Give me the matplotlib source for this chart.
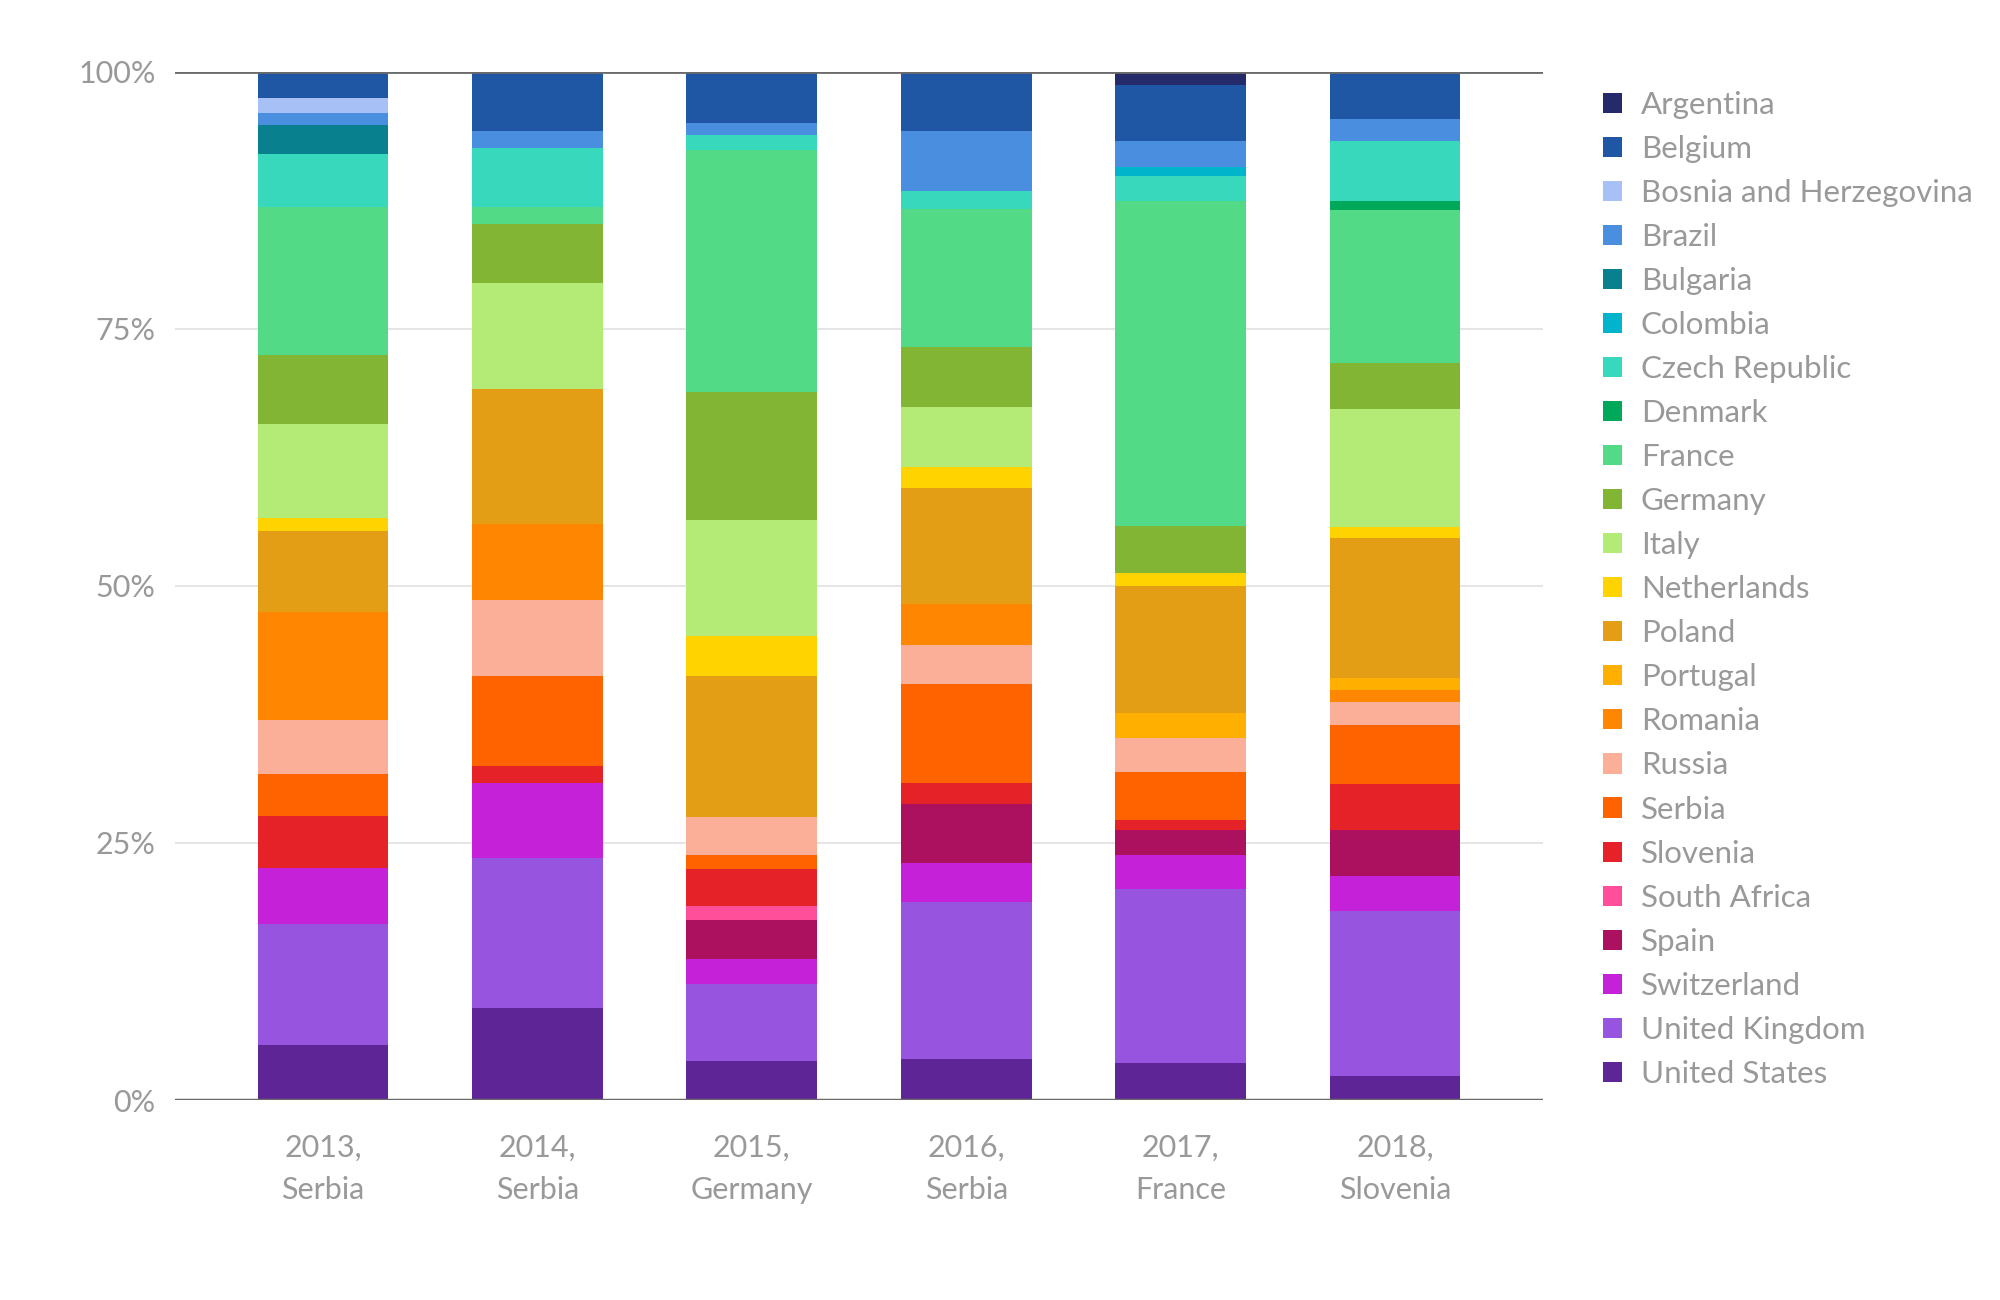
import matplotlib
matplotlib.use("Agg")
from matplotlib import pyplot as plt
import numpy as np

plt.rcParams['font.family'] = ['Lato', 'DejaVu Sans']

# categorias del eje x (año, ganador)
categorias = ["2013,\nSerbia", "2014,\nSerbia", "2015,\nGermany",
              "2016,\nSerbia", "2017,\nFrance", "2018,\nSlovenia"]

paises = ["Argentina", "Belgium", "Bosnia and Herzegovina", "Brazil", "Bulgaria",
          "Colombia", "Czech Republic", "Denmark", "France", "Germany", "Italy",
          "Netherlands", "Poland", "Portugal", "Romania", "Russia", "Serbia",
          "Slovenia", "South Africa", "Spain", "Switzerland", "United Kingdom",
          "United States"]

# porcentaje por pais, un valor por categoria
argentina = [0, 0, 0, 0, 1.27, 0]
belgium = [2.57, 5.79, 5.02, 5.79, 5.48, 4.58]
bosnia = [1.51, 0, 0, 0, 0, 0]
brazil = [1.17, 1.67, 1.20, 5.78, 2.55, 2.17]
bulgaria = [2.74, 0, 0, 0, 0, 0]
colombia = [0, 0, 0, 0, 0.90, 0]
czech = [5.22, 5.75, 1.44, 1.84, 2.41, 5.82]
denmark = [0, 0, 0, 0, 0, 0.94]
france = [14.38, 1.60, 23.51, 13.41, 31.56, 14.81]
germany = [6.65, 5.72, 12.40, 5.82, 4.62, 4.52]
italy = [9.13, 10.30, 11.36, 5.82, 0, 11.40]
netherlands = [1.27, 0, 3.89, 2.00, 1.21, 1.14]
poland = [7.94, 13.14, 13.63, 11.35, 12.33, 13.60]
portugal = [0, 0, 0, 0, 2.45, 1.11]
romania = [10.49, 7.41, 0, 3.99, 0, 1.21]
russia = [5.26, 7.40, 3.69, 3.79, 3.35, 2.24]
serbia = [4.02, 8.75, 1.44, 9.55, 4.63, 5.76]
slovenia = [5.10, 1.64, 3.52, 2.04, 1.03, 4.43]
south_africa = [0, 0, 1.41, 0, 0, 0]
spain = [0, 0, 3.78, 5.73, 2.35, 4.52]
switzerland = [5.39, 7.31, 2.38, 3.82, 3.35, 3.39]
united_kingdom = [11.76, 14.54, 7.58, 15.32, 16.89, 16.01]
united_states = [5.40, 8.98, 3.75, 3.95, 3.62, 2.35]

valores = [argentina, belgium, bosnia, brazil, bulgaria, colombia, czech, denmark,
           france, germany, italy, netherlands, poland, portugal, romania, russia,
           serbia, slovenia, south_africa, spain, switzerland, united_kingdom,
           united_states]

colores = ["#252a6b", "#1f57a5", "#a7c0f5", "#4a8fdf", "#08808e", "#00b4cc",
           "#38d8bd", "#00a85a", "#52da86", "#83b534", "#b4ea76", "#ffd300",
           "#e39e16", "#ffaf00", "#ff8600", "#fbae98", "#ff6300", "#e52228",
           "#ff4f9a", "#ab115e", "#c421d8", "#9755df", "#5e2597"]

gris = "#999999"

fig = plt.figure(figsize=(20, 13), dpi=100)
ax = fig.add_axes([0.0875, 0.1538, 0.684, 0.7912])

x = np.arange(len(categorias))
base = np.zeros(len(categorias))
handles = {}
# se apila desde United States (abajo) hasta Argentina (arriba)
for nombre, vals, col in reversed(list(zip(paises, valores, colores))):
    vals = np.array(vals, dtype=float)
    barras = ax.bar(x, vals, bottom=base, width=0.61, color=col, zorder=3)
    handles[nombre] = barras
    base = base + vals

ax.set_xlim(-0.69, 5.69)
ax.set_ylim(0, 100)
ax.set_yticks([0, 25, 50, 75, 100])
ax.set_yticklabels(["0%", "25%", "50%", "75%", "100%"])
ax.set_xticks(x)
ax.set_xticklabels(categorias, linespacing=1.6)

ax.grid(axis="y", color="#e3e3e3", linewidth=1.3, zorder=0)
ax.axhline(100, color="#6b6b6b", linewidth=2, zorder=4)
ax.axhline(0, color="#6b6b6b", linewidth=2.5, zorder=4)
for s in ax.spines.values():
    s.set_visible(False)
ax.tick_params(axis="both", length=0, colors=gris, labelsize=22)
ax.tick_params(axis="y", pad=14)
ax.tick_params(axis="x", pad=24.5)

ax.legend([handles[p] for p in paises], paises, loc="upper left",
          bbox_to_anchor=(0.795, 0.9396), bbox_transform=fig.transFigure,
          frameon=False, fontsize=22.5, labelcolor=gris,
          handlelength=0.61, handleheight=0.61, handletextpad=0.62,
          labelspacing=0.513, borderaxespad=0)

plt.savefig("out.png")
